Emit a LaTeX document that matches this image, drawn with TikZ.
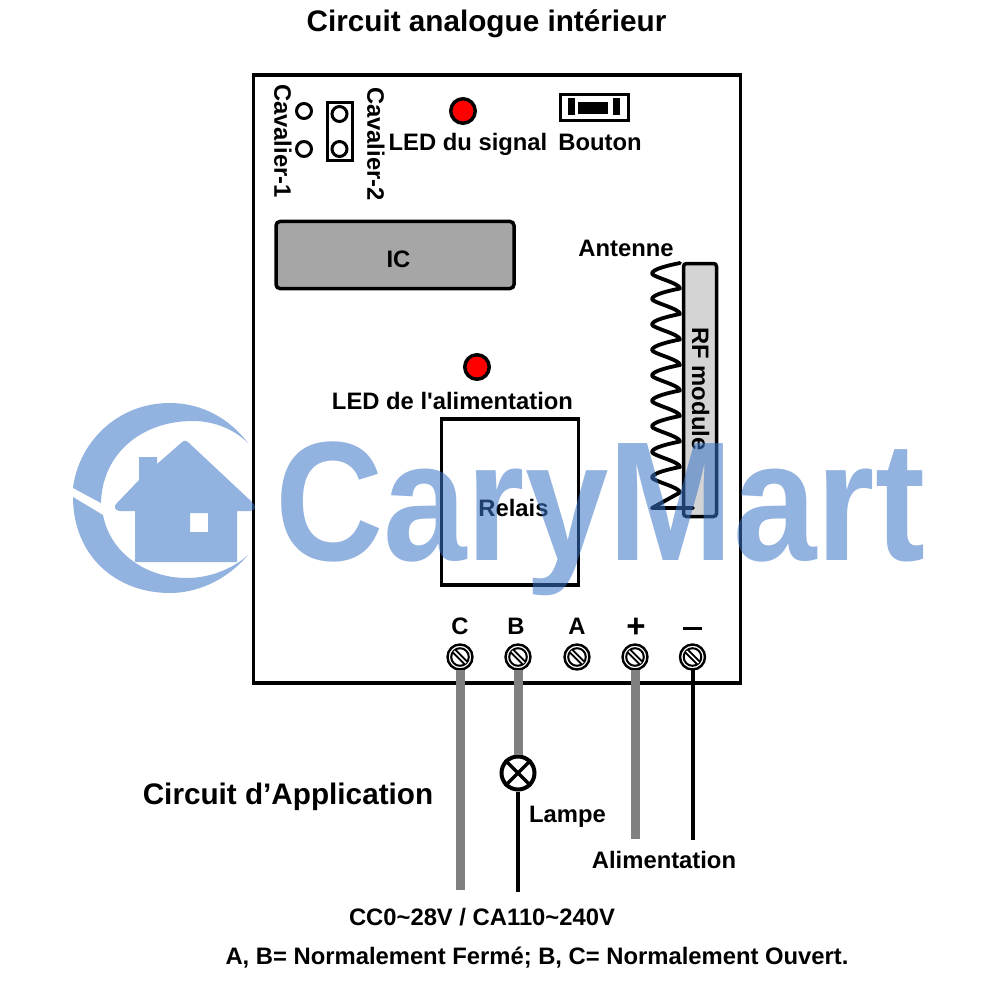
\documentclass[tikz,border=0pt]{standalone}
\usepackage{fontspec}
\setmainfont{Liberation Sans}
\definecolor{wm}{RGB}{57,115,198}
\definecolor{icgray}{RGB}{166,166,166}
\definecolor{rfgray}{RGB}{212,212,212}
\definecolor{wire}{RGB}{128,128,128}
\tikzset{
  lab/.style={font=\bfseries\fontsize{23.8}{24}\selectfont, text=black, inner sep=0pt},
  title/.style={font=\bfseries\fontsize{29.7}{30}\selectfont, text=black, inner sep=0pt},
  led/.style={circle, draw=black, line width=3.5pt, fill=red, minimum size=24.5pt, inner sep=0pt},
  pin/.style={circle, draw=black, line width=3pt, fill=white, minimum size=15pt, inner sep=0pt},
  screw/.style={circle, draw=black, line width=2.4pt, fill=white, minimum size=25pt, inner sep=0pt},
  thick wire/.style={draw=wire, line width=9pt},
  thin wire/.style={draw=black, line width=4pt},
  box/.style={draw=black, line width=3.5pt},
  wmfill/.style={fill=wm, fill opacity=.55, draw=none}
}
\newcommand{\screwat}[2]{%
  \node[screw] (#1) at (#2) {};
  \draw[black, line width=2pt] (#1.center) circle (8.8pt);
  \draw[black, line width=5.4pt] ([shift={(-6,-6)}]#1.center) -- ([shift={(6,6)}]#1.center);
  \draw[white, line width=1.6pt] ([shift={(-6,-6)}]#1.center) -- ([shift={(6,6)}]#1.center);
}
\begin{document}
\begin{tikzpicture}[x=1pt,y=-1pt]
\useasboundingbox (0,0) rectangle (1000,1000);
\fill[white] (0,0) rectangle (1000,1000);
\coordinate (ce) at (459,890);
\coordinate (le) at (518,892);
\coordinate (pe) at (635,839);
\coordinate (me) at (692.5,840);
% titles
\node[title] (t1) at (486.5,23.5) {Circuit analogue intérieur};
\node[title] (t2) at (288,797) {Circuit d’Application};
% board
\node[box, minimum width=487pt, minimum height=608pt, inner sep=0pt] (board) at (497,379) {};
% jumpers
\node[lab, rotate=-90] (cav1) at (283,141) {Cavalier-1};
\node[lab, rotate=-90] (cav2) at (376,144) {Cavalier-2};
\node[pin] (p1) at (304,111) {};
\node[pin] (p2) at (304,149) {};
\node[draw=black, line width=3pt, minimum width=25pt, minimum height=58pt, inner sep=0pt] (jbox) at (340,131.5) {};
\node[pin] (p3) at (339.5,114) {};
\node[pin] (p4) at (339.5,149) {};
% LED signal
\node[led] (led1) at (463,111) {};
\node[lab] (l1) at (468,144) {LED du signal};
% button
\node[draw=black, line width=3pt, fill=white, minimum width=68pt, minimum height=26pt, inner sep=0pt] (btn) at (594.5,107.5) {};
\fill[black] (568,98) rectangle (575,115);
\fill[black] (578,102) rectangle (608,114);
\fill[black] (613,98) rectangle (620,115);
\node[lab] (l2) at (600,142) {Bouton};
% IC
\node[draw=black, line width=3.5pt, fill=icgray, rounded corners=4pt, minimum width=238pt, minimum height=67pt, inner sep=0pt] (ic) at (395,255) {};
\node[lab] at (398.5,259) {IC};
% RF
\node[lab] (ant) at (626,248) {Antenne};
\node[draw=black, line width=3.5pt, fill=rfgray, rounded corners=3pt, minimum width=33pt, minimum height=253pt, inner sep=0pt] (rf) at (700,390) {};
\node[lab, rotate=-90] (rfl) at (700.5,389) {RF module};
\coordinate (a0) at (680,263);
\coordinate (a1) at (652,508);
\coordinate (a2) at (693,508);
\draw[black, line width=3.8pt, line join=round, line cap=round]
  (a0)
  \foreach \y in {0,1,...,8}{
    .. controls (670,{263+\y*25.5+2}) and (652,{263+\y*25.5+6}) .. (652,{263+\y*25.5+10.5})
    .. controls (652,{263+\y*25.5+14}) and (680,{263+\y*25.5+20}) .. (680,{263+\y*25.5+25.5})
  }
  -- (a1) -- (a2);
% LED power
\node[led] (led2) at (477,367) {};
\node[lab] (l3) at (452.5,401) {LED de l\textquotesingle alimentation};
% relay
\node[box, minimum width=137pt, minimum height=166pt, inner sep=0pt] (relay) at (510,502) {};
\node[lab] at (513.5,508) {Relais};
% lamp
\node[circle, draw=black, line width=4pt, fill=white, minimum size=33pt, inner sep=0pt] (lamp) at (518,773) {};
\draw[black, line width=3.5pt] (lamp.north west) -- (lamp.south east) (lamp.north east) -- (lamp.south west);
% terminals
\node[lab] at (460,626) {C};
\node[lab] at (516,626) {B};
\node[lab] at (577,626) {A};
\node[font=\bfseries\fontsize{33}{33}\selectfont, inner sep=0pt] at (636,628) {+};
\coordinate (ma) at (683,628);
\coordinate (mb) at (702,628);
\draw[black, line width=3pt] (ma) -- (mb);
\screwat{sc}{460,657}
\screwat{sb}{518,657}
\screwat{sa}{577,657}
\screwat{sp}{635,657}
\screwat{sm}{692.5,657}
\draw[thick wire] ([yshift=1pt]sc.south) -- (sc.south |- ce);
\draw[thick wire] ([yshift=1pt]sb.south) -- (lamp.north);
\draw[thin wire] (lamp.south) -- (le);
\draw[thick wire] ([yshift=1pt]sp.south) -- (sp.south |- pe);
\draw[thin wire] ([yshift=1pt]sm.south) -- (me);
% labels
\node[lab] at (567.5,817) {Lampe};
\node[lab] at (664,860) {Alimentation};
\node[lab] at (482,917) {CC0\textasciitilde 28V / CA110\textasciitilde 240V};
\node[lab] at (537,958) {A, B= Normalement Fermé; B, C= Normalement Ouvert.};
% watermark
\fill[wmfill] (248,443) .. controls (225,413) and (195,403) .. (170,403)
  .. controls (115,403) and (78,445) .. (73,488) -- (101,503)
  .. controls (102,455) and (140,421) .. (193,421)
  .. controls (215,421) and (235,430) .. (248,443) -- cycle;
\fill[wmfill] (248,555) .. controls (225,582) and (195,593) .. (170,593)
  .. controls (115,593) and (73,555) .. (73,497) -- (103,515)
  .. controls (110,552) and (145,578) .. (187,578)
  .. controls (212,578) and (235,567) .. (248,555) -- cycle;
\fill[wmfill, even odd rule] (181,443) .. controls (184,440) and (186,440) .. (189,443)
  -- (252,502) .. controls (257,506) and (255,511) .. (250,511)
  -- (237,511) -- (237,562) -- (135,562) -- (135,511) -- (120,511)
  .. controls (115,511) and (113,506) .. (117,503)
  -- (139,480) -- (139,457) -- (157,457) -- (157,464) -- cycle
  (190,513) rectangle (208,532);
\node[inner sep=0pt, anchor=base west, text=wm, text opacity=.55, font=\bfseries\fontsize{170}{170}\selectfont, xscale=.882, transform shape] (wmark) at (275,560) {CaryMart};
\end{tikzpicture}
\end{document}
